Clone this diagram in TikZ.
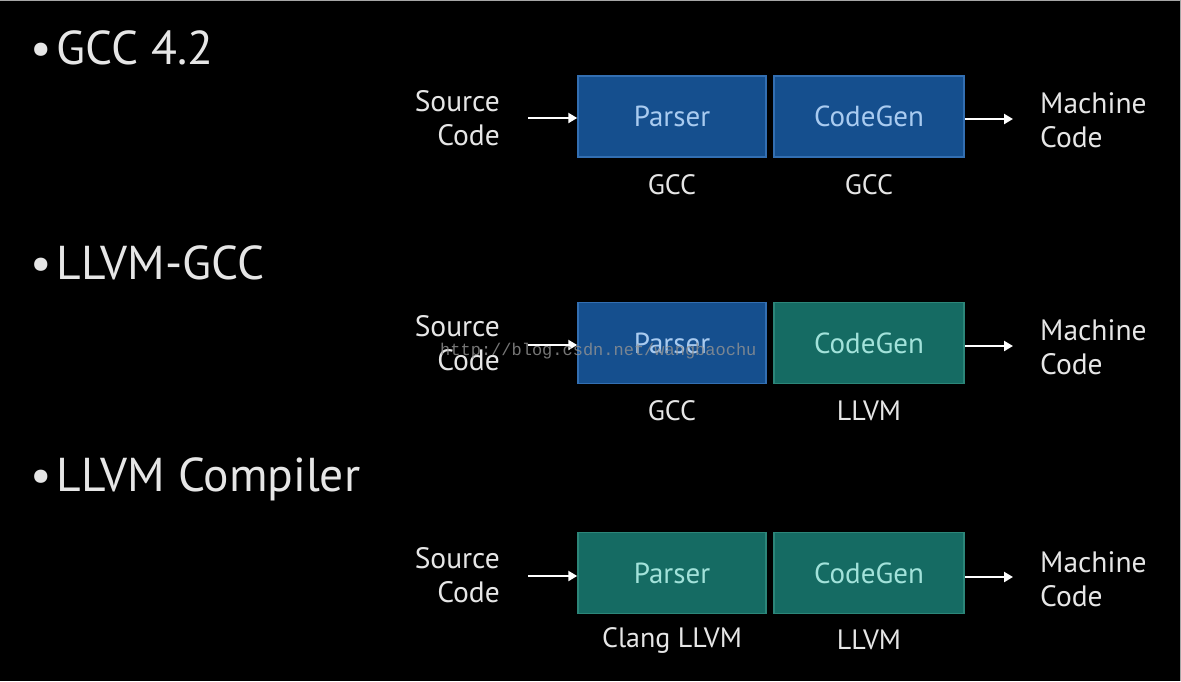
\documentclass[tikz,border=0pt]{standalone}
\usepackage{fontspec}
\setmainfont{PT Sans}
\usetikzlibrary{arrows.meta}
\definecolor{bluefill}{HTML}{154F8E}
\definecolor{blueedge}{HTML}{336FB2}
\definecolor{bluetext}{HTML}{A9CBF0}
\definecolor{tealfill}{HTML}{156B63}
\definecolor{tealedge}{HTML}{2C8679}
\definecolor{tealtext}{HTML}{A2E2DA}
\definecolor{labeltext}{HTML}{E6E6E6}
\tikzset{
  bluebox/.style={draw=blueedge, line width=1.5pt, fill=bluefill, minimum width=188pt, minimum height=81pt, inner sep=0pt, text=bluetext, font=\fontsize{29}{29}\selectfont},
  tealbox/.style={draw=tealedge, line width=1.5pt, fill=tealfill, minimum width=190pt, minimum height=81pt, inner sep=0pt, text=tealtext, font=\fontsize{29}{29}\selectfont},
  srctext/.style={text=labeltext, font=\fontsize{29.5}{33.5}\selectfont, inner sep=0pt, align=right, anchor=east},
  outtext/.style={text=labeltext, font=\fontsize{29.5}{34}\selectfont, inner sep=0pt, align=left, anchor=west},
  undertext/.style={text=labeltext, font=\fontsize{28}{28}\selectfont, inner sep=0pt},
  heading/.style={text=labeltext, font=\fontsize{47.5}{48}\selectfont, anchor=west, inner sep=0pt},
  flow/.style={draw=white, line width=2.5pt, -{Triangle[length=9pt,width=10pt]}},
  watermark/.style={text=gray!85, font=\fontspec{Liberation Mono}\fontsize{17}{17}\selectfont, inner sep=0pt, opacity=0.8}
}
\begin{document}
\begin{tikzpicture}[x=1pt,y=-1pt]
\fill[black] (0,0) rectangle (1181,681);
\useasboundingbox (0,0) rectangle (1181,681);
\draw[gray!70, line width=1pt] (0,0.5) -- (1180.5,0.5) -- (1180.5,681);

% headings
\node[heading] (h1) at (30,48) {•\kern5pt GCC 4.2};
\node[heading] (h2) at (30,263) {•\kern5pt LLVM-GCC};
\node[heading] (h3) at (30,479) {•\kern5pt LLVM Compiler};

% row 1
\node[bluebox] (p1) at (672,116.5) {Parser};
\node[bluebox, minimum width=190pt] (c1) at (869,116.5) {CodeGen};
\node[srctext] (s1) at (500,118) {Source\\Code};
\node[outtext] (m1) at (1040,120) {Machine\\Code};
\node[undertext] (l1a) at (672,185) {GCC};
\node[undertext] (l1b) at (869,185) {GCC};
\coordinate (a1s) at (528,118);
\coordinate (b1e) at (1013,119);
\draw[flow] (a1s) -- (p1.west |- a1s);
\draw[flow] (c1.east |- b1e) -- (b1e);

% row 2
\node[bluebox] (p2) at (672,343) {Parser};
\node[tealbox] (c2) at (869,343) {CodeGen};
\node[srctext] (s2) at (500,343) {Source\\Code};
\node[outtext] (m2) at (1040,347) {Machine\\Code};
\node[undertext] (l2a) at (672,411) {GCC};
\node[undertext] (l2b) at (869,411) {LLVM};
\coordinate (a2s) at (528,345);
\coordinate (b2e) at (1013,346);
\draw[flow] (a2s) -- (p2.west |- a2s);
\draw[flow] (c2.east |- b2e) -- (b2e);
\node[watermark, anchor=west] (wm) at (440,351) {http://blog.csdn.net/wangbaochu};

% row 3
\node[tealbox, minimum width=188pt] (p3) at (672,573) {Parser};
\node[tealbox] (c3) at (869,573) {CodeGen};
\node[srctext] (s3) at (500,575) {Source\\Code};
\node[outtext] (m3) at (1040,579) {Machine\\Code};
\node[undertext] (l3a) at (672,640) {Clang LLVM};
\node[undertext] (l3b) at (869,640) {LLVM};
\coordinate (a3s) at (528,576);
\coordinate (b3e) at (1013,577);
\draw[flow] (a3s) -- (p3.west |- a3s);
\draw[flow] (c3.east |- b3e) -- (b3e);
\end{tikzpicture}
\end{document}
